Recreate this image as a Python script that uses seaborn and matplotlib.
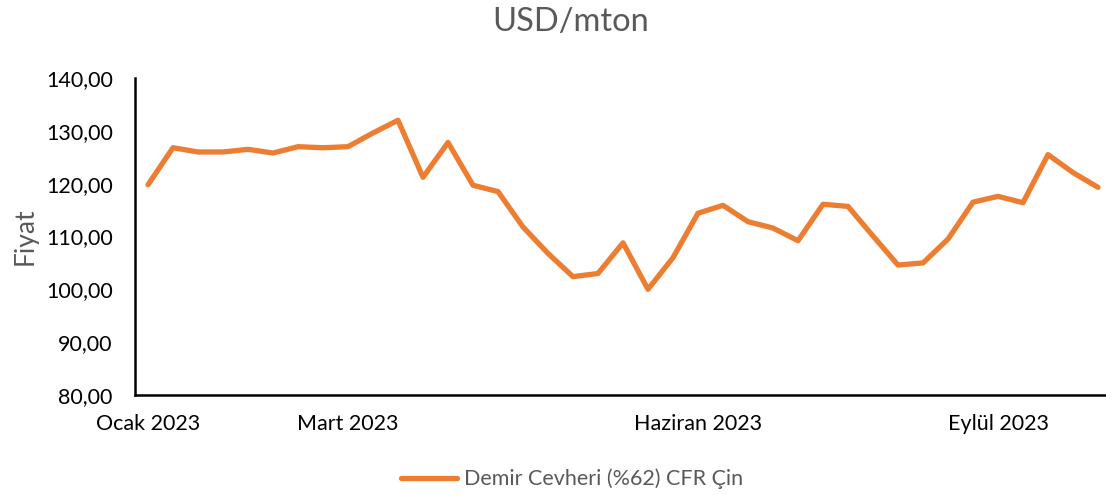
import matplotlib
matplotlib.use("Agg")
import matplotlib.pyplot as plt
import seaborn as sns
import pandas as pd
import numpy as np
from matplotlib.lines import Line2D

# Data
prices = [119.8, 126.8, 126.0, 126.0, 126.5, 125.8, 127.0, 126.8, 127.0, 129.6,
          132.0, 121.2, 127.8, 119.7, 118.5, 111.8, 106.8, 102.4, 103.0, 108.8,
          100.0, 106.0, 114.4, 115.9, 112.8, 111.6, 109.2, 116.1, 115.7, 110.1,
          104.6, 105.0, 109.5, 116.5, 117.6, 116.4, 125.5, 122.1, 119.3]
tick_positions = [0, 8, 22, 34]
tick_labels = ["Ocak 2023", "Mart 2023", "Haziran 2023", "Eylül 2023"]
series_name = "Demir Cevheri (%62) CFR Çin"
title = "USD/mton"
ylabel = "Fiyat"

df = pd.DataFrame({"idx": np.arange(len(prices)), "price": prices, "seri": series_name})

sns.set_theme(style="white")
plt.rcParams["font.family"] = ["Lato", "DejaVu Sans"]

fig = plt.figure(figsize=(11.06, 4.95), dpi=100)
ax = fig.add_axes([135/1106, 1-395/495, (1105-135)/1106, (395-78)/495])

sns.lineplot(data=df, x="idx", y="price", hue="seri", palette=["#ED7D31"],
             linewidth=3.8, ax=ax, legend=False, solid_capstyle="round",
             solid_joinstyle="round")

ax.set_xlim(-0.52, 38.28)
ax.set_ylim(80, 140)
yt = np.arange(80, 141, 10)
ax.set_yticks(yt)
ax.set_yticklabels([f"{v:.2f}".replace(".", ",") for v in yt], fontsize=15.5, color="black")
ax.set_xticks(tick_positions)
ax.set_xticklabels(tick_labels, fontsize=15.5, color="black")
ax.tick_params(axis="both", length=0)
ax.tick_params(axis="x", pad=14)
ax.tick_params(axis="y", pad=16)
ax.set_xlabel("")
ax.set_ylabel(ylabel, fontsize=19, color="#595959", labelpad=6)

for s in ["top", "right"]:
    ax.spines[s].set_visible(False)
for s in ["left", "bottom"]:
    ax.spines[s].set_color("black")
    ax.spines[s].set_linewidth(1.8)

fig.text(571/1106, 1-22/495, title, ha="center", va="center", fontsize=23.5, color="#595959")

handle = Line2D([0], [0], color="#ED7D31", linewidth=3.8, solid_capstyle="round")
fig.legend([handle], [series_name], loc="center", bbox_to_anchor=(572/1106, 1-479/495),
           frameon=False, fontsize=15.5, labelcolor="#595959", handlelength=2.6,
           handletextpad=0.3)

fig.savefig("out.png", dpi=100)
